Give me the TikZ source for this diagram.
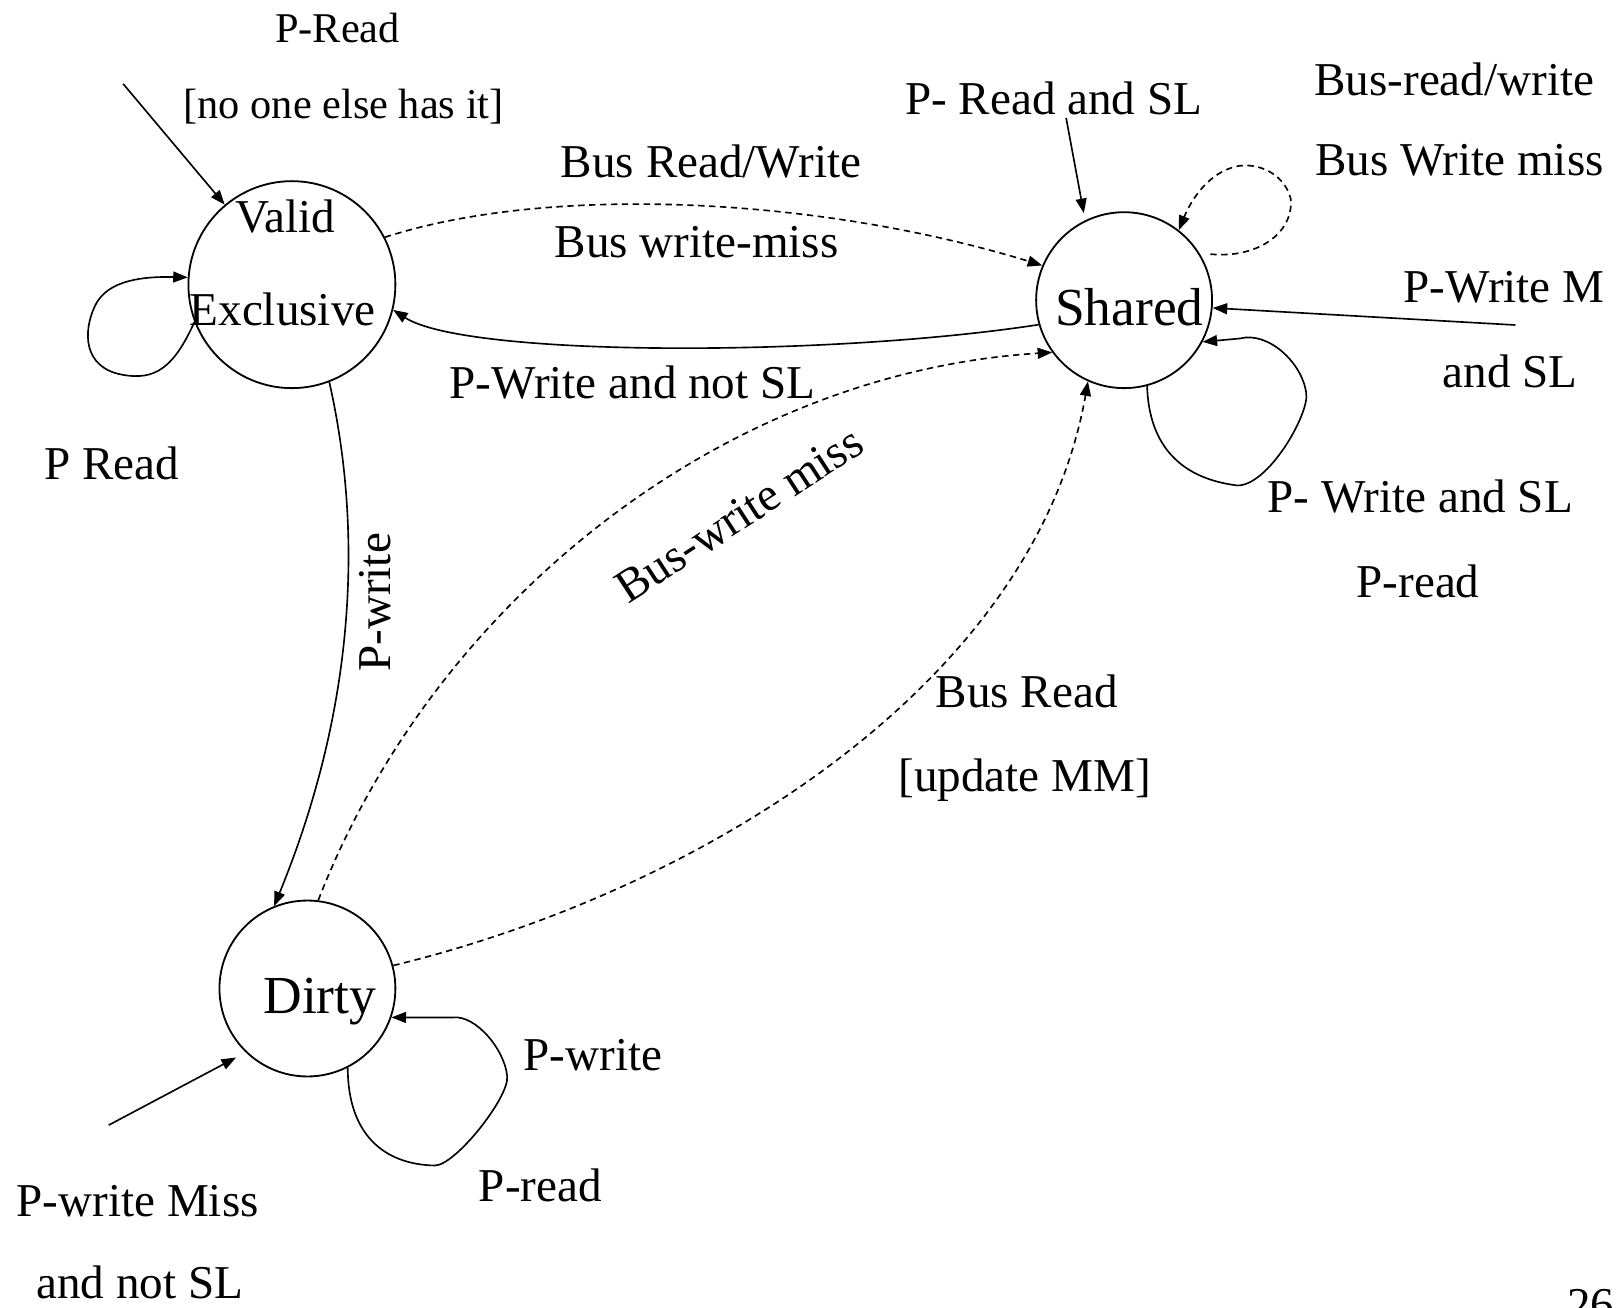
\documentclass[tikz,border=0pt]{standalone}
\usepackage{fontspec}
\setmainfont{Liberation Serif}
\usetikzlibrary{arrows.meta}
\begin{document}
\begin{tikzpicture}[x=0.02cm,y=-0.02cm,
  state/.style={circle,draw,line width=1pt,inner sep=0pt},
  lab/.style={inner sep=0pt,font=\fontsize{25.9pt}{31pt}\selectfont,text height=17pt,text depth=0pt},
  smalllab/.style={inner sep=0pt,font=\fontsize{23.3pt}{28pt}\selectfont,text height=15.4pt,text depth=0pt},
  biglab/.style={inner sep=0pt,font=\fontsize{29.4pt}{35pt}\selectfont,text height=19.5pt,text depth=0pt},
  arr/.style={line width=0.9pt,-{Triangle[length=8pt,width=6pt]}},
  darr/.style={arr,dash pattern=on 3.5pt off 2.5pt}]
\fill[white] (0,0) rectangle (1568,1263);
\useasboundingbox (0,0) rectangle (1568,1263);
% states
\node[state,minimum size=4cm] (V) at (282,275) {};
\node[state,minimum size=3.4cm] (S) at (1086,290) {};
\node[state,minimum size=3.4cm] (D) at (297,955) {};
\node[lab] (tV1) at (276,210) {Valid};
\node[lab] (tV2) at (273,300) {Exclusive};
\node[biglab] (tS) at (1091,297) {Shared};
\node[biglab] (tD) at (309,962) {Dirty};
% free ends
\coordinate (iV) at (119,81);
\coordinate (iS) at (1030,114);
\coordinate (iS2) at (1464,314);
\coordinate (iD) at (105,1087);
% incoming arrows
\draw[arr] (iV) -- (V);
\draw[arr,shorten >=4pt] (iS) -- (S.116);
\draw[arr] (iS2) -- (S.-5);
\draw[arr,shorten >=6pt] (iD) -- (D.226);
% transitions
\draw[darr] (V.27) .. controls (530,178) and (790,190) .. (S.157);
\draw[arr] (S.196) .. controls (800,345) and (450,345) .. (V.-14);
\draw[arr] (V.-69) .. controls (350,510) and (345,680) .. (D.112);
\draw[darr] (D.83) .. controls (420,580) and (700,360) .. (S.216);
\draw[darr] (D.15) .. controls (680,860) and (1000,660) .. (S.246);
% self loops
\draw[arr] (V.201) .. controls (168,355) and (150,368) .. (118,362)
  .. controls (80,355) and (80,320) .. (92,295)
  .. controls (104,270) and (140,267) .. (V.176);
\draw[darr,shorten <=6pt] (S.32) .. controls (1215,250) and (1250,225) .. (1247,192)
  .. controls (1240,165) and (1210,155) .. (1190,162)
  .. controls (1165,170) and (1150,195) .. (S.52);
\draw[arr] (S.-75) .. controls (1110,430) and (1140,462) .. (1195,469)
  .. controls (1225,470) and (1265,400) .. (1262,380)
  .. controls (1258,350) and (1225,320) .. (1198,327) -- (S.-28);
\draw[arr] (D.-63) .. controls (336,1095) and (370,1125) .. (420,1126)
  .. controls (440,1126) and (492,1060) .. (490,1040)
  .. controls (488,1015) and (460,980) .. (437,983) -- (D.-19);
% labels
\node[smalllab] (l1) at (326,28) {P-Read};
\node[smalllab] (l2) at (332,101) {[no one else has it]};
\node[lab] (l3) at (687,157) {Bus Read/Write};
\node[lab] (l4) at (673,234) {Bus write-miss};
\node[lab] (l5) at (1018,96) {P- Read and SL};
\node[lab] (l6) at (1405,77) {Bus-read/write};
\node[lab] (l7) at (1410,155) {Bus Write miss};
\node[lab] (l8) at (1453,277) {P-Write M};
\node[lab] (l9) at (1459,359) {and SL};
\node[lab] (l10) at (611,370) {P-Write and not SL};
\node[lab] (l11) at (108,448) {P Read};
\node[lab] (l12) at (1372,480) {P- Write and SL};
\node[lab] (l13) at (1370,562) {P-read};
\node[lab,rotate=90] (l14) at (362,582) {P-write};
\node[lab,rotate=33] (l15) at (714,497) {Bus-write miss};
\node[lab] (l16) at (992,669) {Bus Read};
\node[lab] (l17) at (990,750) {[update MM]};
\node[lab] (l18) at (573,1019) {P-write};
\node[lab] (l19) at (522,1146) {P-read};
\node[lab] (l20) at (133,1160) {P-write Miss};
\node[lab] (l21) at (135,1240) {and not SL};
\node[lab,anchor=north] (l22) at (1537,1246) {26};
\end{tikzpicture}
\end{document}
